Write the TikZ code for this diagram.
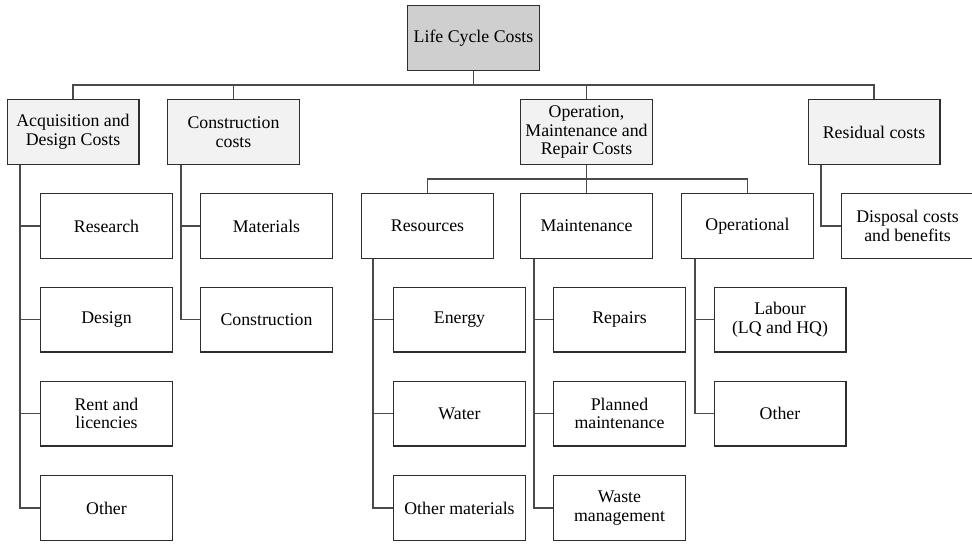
\documentclass[tikz,border=0pt]{standalone}
\usepackage{fontspec}
\setmainfont{Liberation Serif}
\usepackage{tikz}
\usetikzlibrary{positioning,calc}
\definecolor{topfill}{HTML}{CFCFCF}
\definecolor{catfill}{HTML}{F2F2F2}
\definecolor{boxline}{HTML}{2E2E2E}
\definecolor{linkline}{HTML}{4A4A4A}

\begin{document}
\begin{tikzpicture}[x=1pt,y=-1pt,
		costbox/.style={draw=boxline,line width=1.3pt,minimum width=131.7pt,minimum height=64.7pt,
			inner sep=1pt,align=center,font=\fontsize{17.8}{18.7}\selectfont},
		topbox/.style={costbox,fill=topfill},
		catbox/.style={costbox,fill=catfill},
		link/.style={draw=linkline,line width=1.1pt}]
	\clip (0,0) rectangle (972,544);
	\node[topbox] (lcc) at (473.5,38) {Life Cycle Costs};
	% main categories
	\node[catbox] (acq) at (73,132) {Acquisition and\\Design Costs};
	\node[catbox] (constr) at (233.5,132) {Construction\\costs};
	\node[catbox] (omr) at (586.5,132) {Operation,\\Maintenance and\\Repair Costs};
	\node[catbox] (resid) at (874,132) {Residual costs};
	% first row
	\node[costbox] (research) at (106.5,226) {Research};
	\node[costbox] (materials) at (266.5,226) {Materials};
	\node[costbox] (resources) at (427.5,226) {Resources};
	\node[costbox] (maint) at (586.5,226) {Maintenance};
	\node[costbox] (operat) at (747.5,226) {Operational};
	\node[costbox] (disposal) at (907.5,226) {Disposal costs\\and benefits};
	% lower rows
	\node[costbox] (design) at (106.5,319.5) {Design};
	\node[costbox] (rent) at (106.5,413.5) {Rent and\\licencies};
	\node[costbox] (otheracq) at (106.5,508) {Other};
	\node[costbox] (construction) at (266.5,319.5) {Construction};
	\node[costbox] (energy) at (459.5,319.5) {Energy};
	\node[costbox] (water) at (459.5,413.5) {Water};
	\node[costbox] (othermat) at (459.5,508) {Other materials};
	\node[costbox] (repairs) at (619.5,319.5) {Repairs};
	\node[costbox] (planned) at (619.5,413.5) {Planned\\maintenance};
	\node[costbox] (waste) at (619.5,508) {Waste\\management};
	\node[costbox] (labour) at (780,319.5) {Labour\\(LQ and HQ)};
	\node[costbox] (otherop) at (780,413.5) {Other};

	% connectors
	\coordinate (bus) at (473.5,85);
	\coordinate (obus) at (586.5,179);
	\draw[link] (lcc.south) -- (bus);
	\draw[link] (acq.north) |- (bus) -| (resid.north);
	\draw[link] (constr.north) -- (constr.north |- bus);
	\draw[link] (omr.north) -- (omr.north |- bus);
	\draw[link] (resources.north) |- (obus) -| (operat.north);
	\draw[link] (omr.south) -- (maint.north);

	\coordinate (acqline) at (20,165);
	\coordinate (conline) at (181,165);
	\coordinate (resline) at (373,259);
	\coordinate (mainline) at (534,259);
	\coordinate (opline) at (695,259);
	\coordinate (residline) at (821,165);
	\draw[link] (acqline) |- (otheracq.west);
	\foreach \c in {research,design,rent}
		\draw[link] (\c.west) -- (\c.west -| acqline);
	\draw[link] (conline) |- (construction.west);
	\draw[link] (materials.west) -- (materials.west -| conline);
	\draw[link] (resline) |- (othermat.west);
	\foreach \c in {energy,water}
		\draw[link] (\c.west) -- (\c.west -| resline);
	\draw[link] (mainline) |- (waste.west);
	\foreach \c in {repairs,planned}
		\draw[link] (\c.west) -- (\c.west -| mainline);
	\draw[link] (opline) |- (otherop.west);
	\draw[link] (labour.west) -- (labour.west -| opline);
	\draw[link] (residline) |- (disposal.west);
\end{tikzpicture}
\end{document}
